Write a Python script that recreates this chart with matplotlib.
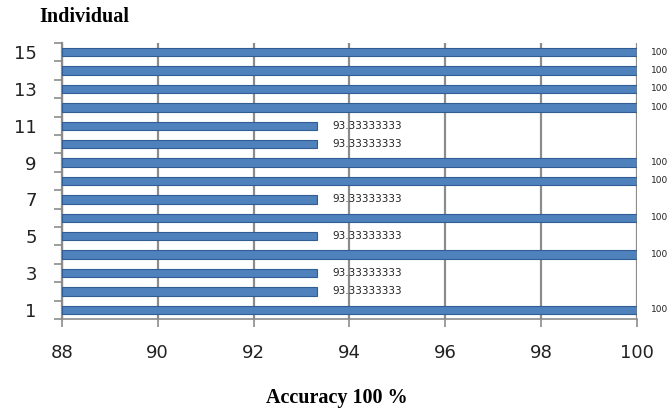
import numpy as np
import matplotlib.pyplot as plt

individuals = list(range(1, 16))
accuracy = [100, 93.33333333, 93.33333333, 100, 93.33333333, 100, 93.33333333,
            100, 100, 93.33333333, 93.33333333, 100, 100, 100, 100]
x_ticks = [88, 90, 92, 94, 96, 98, 100]
y_labels = [1, 3, 5, 7, 9, 11, 13, 15]

fig = plt.figure(figsize=(6.72, 4.09), dpi=100)
ax = fig.add_axes([0.092, 0.22, 0.856, 0.675])

grid_col = '#8c8c8c'
for xv in x_ticks:
    ax.axvline(xv, color=grid_col, lw=1.6, zorder=0)

ax.barh(individuals, [a - 88 for a in accuracy], left=88, height=0.45,
        color='#4f81bd', edgecolor='#325d94', linewidth=0.8, zorder=3)

for yi, a in zip(individuals, accuracy):
    if a >= 100:
        ax.text(100.3, yi, '100', fontsize=6.5, va='center', ha='left', color='#222222')
    else:
        ax.text(93.65, yi, f'{a:.8f}', fontsize=7.5, va='center', ha='left', color='#222222')

ax.set_xlim(88, 100)
ax.set_ylim(0.5, 15.5)
ax.set_xticks(x_ticks)
ax.set_xticklabels([str(v) for v in x_ticks], fontsize=13, color='#222222')
ax.set_yticks(y_labels)
ax.set_yticklabels([str(v) for v in y_labels], fontsize=13, color='#222222')
ax.set_yticks(np.arange(0.5, 15.6, 1), minor=True)
ax.tick_params(axis='y', which='major', length=0, pad=18)
ax.tick_params(axis='y', which='minor', length=6, color=grid_col, width=1.2)
ax.tick_params(axis='x', length=6, color=grid_col, width=1.2, pad=12)

for side in ['top', 'right']:
    ax.spines[side].set_visible(False)
ax.spines['left'].set_color(grid_col)
ax.spines['left'].set_linewidth(1.6)
ax.spines['bottom'].set_color(grid_col)
ax.spines['bottom'].set_linewidth(1.2)

fig.text(0.058, 0.958, 'Individual', fontsize=14.5, fontweight='bold',
         family='Liberation Serif', ha='left', va='center', color='black')
fig.text(0.501, 0.027, 'Accuracy 100 %', fontsize=14.5, fontweight='bold',
         family='Liberation Serif', ha='center', va='center', color='black')

fig.savefig('out.png', dpi=100)
